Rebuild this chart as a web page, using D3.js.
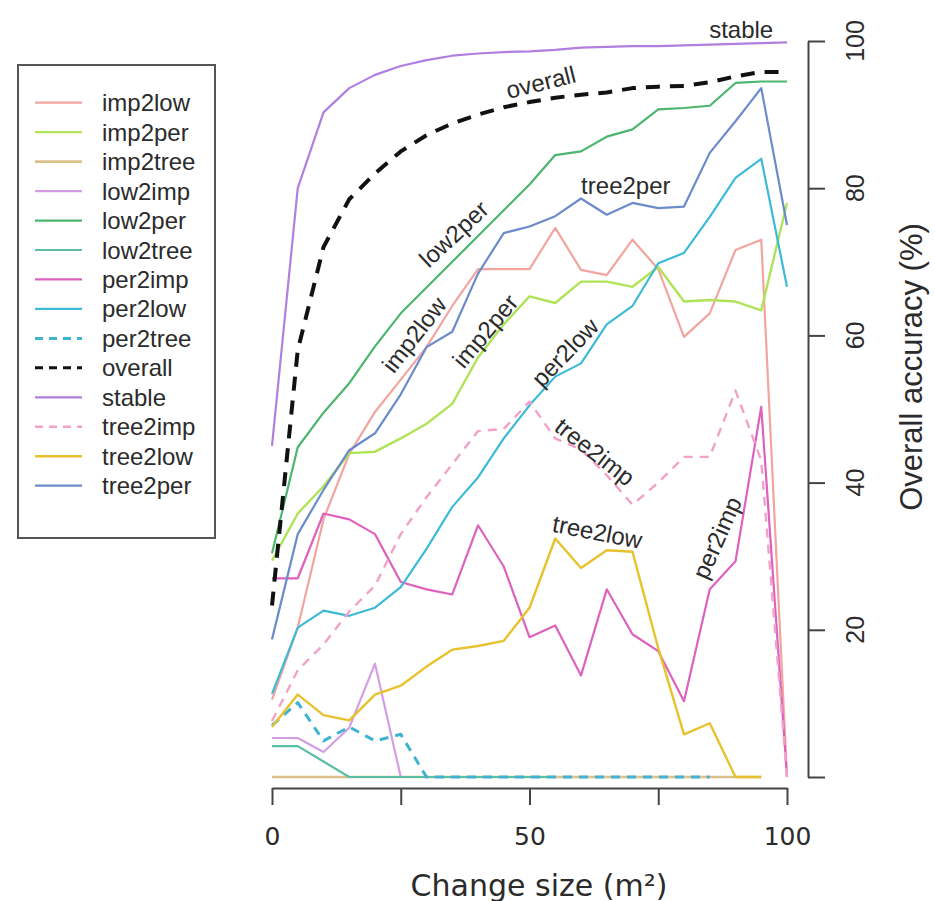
<!DOCTYPE html>
<html>
<head>
<meta charset="utf-8">
<script src="https://cdn.jsdelivr.net/npm/d3@7"></script>
<style>
  body { margin: 0; background: #fff; }
  svg text { fill: #2b2b2b; }
</style>
</head>
<body>
<div id="chart"></div>
<script>
const width = 935;
const height = 901;

// data: accuracy (%) per change size (m2)
const changeSize = [0, 5, 10, 15, 20, 25, 30, 35, 40, 45, 50, 55, 60, 65, 70, 75, 80, 85, 90, 95, 100];

const imp2low  = [10.5, 20.3, 35, 43.9, 49.6, 54, 58.4, 64, 69, 69, 69, 74.6, 68.9, 68.2, 73, 69, 59.8, 63, 71.6, 73, 0];
const imp2per  = [29.4, 35.8, 39.5, 44, 44.2, 46, 48, 50.7, 57, 61.5, 65.3, 64.4, 67.3, 67.3, 66.6, 69.3, 64.6, 64.8, 64.6, 63.4, 78];
const imp2tree = [0, 0, 0, 0, 0, 0, 0, 0, 0, 0, 0, 0, 0, 0, 0, 0, 0, 0, 0, 0, null];
const low2imp  = [5.3, 5.3, 3.4, 6.7, 15.4, 0, null, null, null, null, null, null, null, null, null, null, null, null, null, null, null];
const low2per  = [30.4, 44.8, 49.5, 53.5, 58.5, 63, 66.5, 70, 73.5, 77, 80.5, 84.5, 85, 87, 88, 90.7, 90.9, 91.2, 94.3, 94.5, 94.5];
const low2tree = [4.2, 4.2, 2.1, 0, 0, 0, 0, 0, 0, 0, 0, 0, null, null, null, null, null, null, null, null, null];
const per2imp  = [27, 27, 35.8, 35, 33, 26.5, 25.5, 24.8, 34.2, 28.6, 19, 20.6, 13.8, 25.5, 19.4, 17.1, 10.3, 25.5, 29.3, 50.3, 0];
const per2low  = [11.3, 20.3, 22.6, 21.9, 23, 25.8, 31, 36.7, 40.7, 46, 50.5, 54.4, 56.2, 61.5, 64, 69.8, 71.2, 76.1, 81.4, 84, 66.6];
const per2tree = [7, 10.1, 4.9, 6.8, 4.9, 5.8, 0, 0, 0, 0, 0, 0, 0, 0, 0, 0, 0, 0, null, null, null];
const overall  = [23.3, 58, 72, 78.5, 82, 85, 87.2, 88.8, 90, 91, 91.7, 92.3, 92.7, 93, 93.6, 93.8, 93.9, 94.4, 95.2, 95.8, 95.8];
const stable   = [45, 80, 90.3, 93.6, 95.4, 96.6, 97.4, 98, 98.3, 98.5, 98.6, 98.8, 99.1, 99.2, 99.3, 99.3, 99.4, 99.5, 99.6, 99.7, 99.8];
const tree2imp = [7.6, 14.5, 18, 22.5, 26, 33, 38, 42.5, 47, 47.3, 51, 46, 44.5, 41, 37, 40, 43.5, 43.5, 52.5, 43, 0];
const tree2low = [6.8, 11.2, 8.4, 7.7, 11.2, 12.4, 15, 17.3, 17.8, 18.5, 23, 32.4, 28.4, 30.8, 30.6, 17.5, 5.8, 7.3, 0, 0, null];
const tree2per = [18.7, 33, 39, 44.4, 46.7, 52, 58.4, 60.5, 68.4, 73.9, 74.8, 76.2, 78.6, 76.4, 78, 77.3, 77.5, 84.8, 89.1, 93.6, 75];

const seriesNames = ['imp2low', 'imp2per', 'imp2tree', 'low2imp', 'low2per', 'low2tree', 'per2imp',
  'per2low', 'per2tree', 'overall', 'stable', 'tree2imp', 'tree2low', 'tree2per'];
const seriesValues = [imp2low, imp2per, imp2tree, low2imp, low2per, low2tree, per2imp,
  per2low, per2tree, overall, stable, tree2imp, tree2low, tree2per];

const xTicks = [0, 25, 50, 75, 100];
const xTickLabels = ['0', '', '50', '', '100'];
const yTicks = [0, 20, 40, 60, 80, 100];
const yTickLabels = ['', '20', '40', '60', '80', '100'];

// styles
const seriesStyle = {
  imp2low:  { color: '#f2a59f', width: 2.2, dash: null },
  imp2per:  { color: '#b0e358', width: 2.4, dash: null },
  imp2tree: { color: '#dcc08c', width: 2.6, dash: null },
  low2imp:  { color: '#d59ee3', width: 2.2, dash: null },
  low2per:  { color: '#4cb56e', width: 2.2, dash: null },
  low2tree: { color: '#5bbfa6', width: 2.2, dash: null },
  per2imp:  { color: '#de62bd', width: 2.2, dash: null },
  per2low:  { color: '#3dbad6', width: 2.2, dash: null },
  per2tree: { color: '#3fb3d2', width: 3, dash: '9,7' },
  overall:  { color: '#111111', width: 4, dash: '14,10' },
  stable:   { color: '#b07fdf', width: 2.2, dash: null },
  tree2imp: { color: '#f2a2c8', width: 2.4, dash: '9,7' },
  tree2low: { color: '#e7c22e', width: 2.4, dash: null },
  tree2per: { color: '#6b8bcb', width: 2.2, dash: null }
};

// in-plot labels (data coordinates)
const lineLabels = [
  { text: 'stable',   x: 91.1, y: 101.6, angle: 0 },
  { text: 'overall',  x: 52.2, y: 94.4,  angle: -14 },
  { text: 'tree2per', x: 68.7, y: 80.3,  angle: 0 },
  { text: 'low2per',  x: 35.3, y: 73.8,  angle: -43 },
  { text: 'imp2low',  x: 27.6, y: 60.1,  angle: -52 },
  { text: 'imp2per',  x: 41.4, y: 60.6,  angle: -50 },
  { text: 'per2low',  x: 56.9, y: 57.7,  angle: -46 },
  { text: 'tree2imp', x: 62.7, y: 44.2,  angle: 38 },
  { text: 'tree2low', x: 63.2, y: 33.3,  angle: 11 },
  { text: 'per2imp',  x: 86.4, y: 32.5,  angle: -66 }
];

const x = d3.scaleLinear().domain([0, 100]).range([272, 787]);
const y = d3.scaleLinear().domain([0, 100]).range([777, 41]);

const svg = d3.select('#chart')
  .append('svg')
  .attr('width', width)
  .attr('height', height);

const series = seriesNames.map((name, i) => ({
  name: name,
  points: changeSize.map((c, j) => ({ x: c, v: seriesValues[i][j] }))
}));

const line = d3.line()
  .defined(d => d.v !== null)
  .x(d => x(d.x))
  .y(d => y(d.v));

svg.append('g')
  .selectAll('path')
  .data(series)
  .enter()
  .append('path')
  .attr('d', d => line(d.points))
  .attr('fill', 'none')
  .attr('stroke', d => seriesStyle[d.name].color)
  .attr('stroke-width', d => seriesStyle[d.name].width)
  .attr('stroke-dasharray', d => seriesStyle[d.name].dash)
  .attr('stroke-linejoin', 'round');

// labels on lines
svg.append('g')
  .selectAll('text')
  .data(lineLabels)
  .enter()
  .append('text')
  .attr('transform', d => `translate(${x(d.x)},${y(d.y)}) rotate(${d.angle})`)
  .attr('text-anchor', 'middle')
  .attr('dominant-baseline', 'central')
  .style('font-family', '"Liberation Sans", Arial, sans-serif')
  .style('font-size', '24px')
  .text(d => d.text);

// x axis
const xAxis = svg.append('g')
  .attr('transform', 'translate(0,788)')
  .call(d3.axisBottom(x).tickValues(xTicks).tickSize(17).tickSizeOuter(0)
    .tickFormat((d, i) => xTickLabels[i]));
xAxis.select('.domain').attr('stroke', '#444').attr('stroke-width', 2);
xAxis.selectAll('.tick line').attr('stroke', '#444').attr('stroke-width', 2);
xAxis.selectAll('.tick text')
  .attr('y', 48)
  .attr('dy', 0)
  .attr('dominant-baseline', 'central')
  .style('font-family', '"DejaVu Sans", Verdana, sans-serif')
  .style('font-size', '25px')
  .style('fill', '#2b2b2b');

svg.append('text')
  .attr('x', 539)
  .attr('y', 885)
  .attr('text-anchor', 'middle')
  .attr('dominant-baseline', 'central')
  .style('font-family', '"DejaVu Sans", Verdana, sans-serif')
  .style('font-size', '30px')
  .text('Change size (m²)');

// right axis
const yAxis = svg.append('g')
  .attr('transform', 'translate(808,0)')
  .call(d3.axisRight(y).tickValues(yTicks).tickSize(17).tickSizeOuter(0).tickFormat(''));
yAxis.select('.domain').attr('stroke', '#444').attr('stroke-width', 2);
yAxis.selectAll('.tick line').attr('stroke', '#444').attr('stroke-width', 2);

svg.append('g')
  .selectAll('text')
  .data(yTicks)
  .enter()
  .append('text')
  .attr('transform', d => `translate(855,${y(d)}) rotate(-90)`)
  .attr('text-anchor', 'middle')
  .attr('dominant-baseline', 'central')
  .style('font-family', '"Liberation Sans", Arial, sans-serif')
  .style('font-size', '25px')
  .text((d, i) => yTickLabels[i]);

svg.append('text')
  .attr('transform', 'translate(911,367) rotate(-90)')
  .attr('text-anchor', 'middle')
  .attr('dominant-baseline', 'central')
  .style('font-family', '"Liberation Sans", Arial, sans-serif')
  .style('font-size', '31px')
  .text('Overall accuracy (%)');

// legend
const legend = svg.append('g').attr('id', 'legend');
legend.append('rect')
  .attr('x', 18)
  .attr('y', 65)
  .attr('width', 197)
  .attr('height', 473)
  .attr('fill', '#fff')
  .attr('stroke', '#555')
  .attr('stroke-width', 2);

const rows = legend.selectAll('g.row')
  .data(seriesNames)
  .enter()
  .append('g')
  .attr('class', 'row')
  .attr('transform', (d, i) => `translate(0,${102.7 + i * 29.46})`);

rows.append('line')
  .attr('x1', 35)
  .attr('x2', 82)
  .attr('stroke', d => seriesStyle[d].color)
  .attr('stroke-width', d => Math.min(seriesStyle[d].width, 3))
  .attr('stroke-dasharray', d => seriesStyle[d].dash ? '8,6' : null);

rows.append('text')
  .attr('x', 102)
  .attr('dominant-baseline', 'central')
  .style('font-family', '"Liberation Sans", Arial, sans-serif')
  .style('font-size', '24px')
  .text(d => d);
</script>
</body>
</html>
